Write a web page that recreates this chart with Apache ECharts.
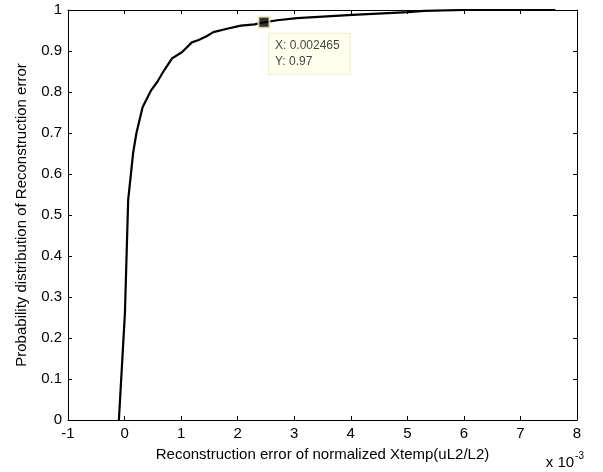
<!DOCTYPE html>
<html>
<head>
<meta charset="utf-8">
<title>Reconstruction error CDF</title>
<script src="https://cdn.jsdelivr.net/npm/echarts@6/dist/echarts.min.js"></script>
<style>
  html, body { margin: 0; padding: 0; background: #fff; }
  #chart { width: 603px; height: 472px; }
</style>
</head>
<body>
<div id="chart"></div>
<script>
// Empirical CDF of the reconstruction error (x in raw units, shown on the axis as x 10^-3)
var errValues = [
  -0.00010, 0.000007, 0.000064, 0.000111, 0.000151, 0.000210, 0.000319, 0.000470,
  0.000580, 0.000700, 0.000840, 0.001014, 0.001190, 0.001310, 0.001450, 0.001570,
  0.001830, 0.002056, 0.002300, 0.002465, 0.002700, 0.003050, 0.004030, 0.005010,
  0.005300, 0.006000, 0.007600
];
var probValues = [
  0.000, 0.262, 0.537, 0.598, 0.651, 0.700, 0.763, 0.804,
  0.825, 0.853, 0.882, 0.897, 0.921, 0.927, 0.936, 0.946,
  0.955, 0.962, 0.965, 0.970, 0.975, 0.980, 0.988, 0.995,
  0.998, 1.000, 1.000
];
// Data tip point
var tipX = [0.002465];
var tipY = [0.97];

var xMin = -0.001, xMax = 0.008, xStep = 0.001;
var yMin = 0, yMax = 1, yStep = 0.1;

var FONT = '"Liberation Sans", Arial, Helvetica, sans-serif';
var INK = '#000';

var curve = errValues.map(function (x, i) { return [x, probValues[i]]; });
var tip = tipX.map(function (x, i) { return [x, tipY[i]]; });

function xLabel(v) { return String(Math.round(v / xStep)); }
function yLabel(v) {
  var r = Math.round(v * 10) / 10;
  return r === 0 || r === 1 ? String(r) : r.toFixed(1);
}

function boxAxis(extra) {
  var base = {
    axisLine: { show: true, onZero: false, lineStyle: { color: INK, width: 1 } },
    axisTick: { show: true, inside: true, length: 4, lineStyle: { color: INK, width: 1 } },
    splitLine: { show: false },
    axisLabel: { show: false }
  };
  return Object.assign(base, extra);
}

var chart = echarts.init(document.getElementById('chart'), null, { renderer: 'canvas' });

chart.setOption({
  animation: false,
  backgroundColor: '#fff',
  textStyle: { fontFamily: FONT },
  grid: { left: 68, right: 26, top: 10, bottom: 52, containLabel: false },
  xAxis: [
    boxAxis({
      type: 'value', position: 'bottom', min: xMin, max: xMax, interval: xStep,
      axisLabel: { show: true, color: INK, fontSize: 15, fontFamily: FONT, margin: 6, formatter: xLabel },
      name: 'Reconstruction error of normalized Xtemp(uL2/L2)',
      nameLocation: 'middle', nameGap: 27,
      nameTextStyle: { color: INK, fontSize: 15, fontFamily: FONT }
    }),
    boxAxis({ type: 'value', position: 'top', min: xMin, max: xMax, interval: xStep })
  ],
  yAxis: [
    boxAxis({
      type: 'value', position: 'left', min: yMin, max: yMax, interval: yStep,
      axisLabel: { show: true, color: INK, fontSize: 15, fontFamily: FONT, margin: 6, formatter: yLabel },
      name: 'Probability distribution of Reconstruction error',
      nameLocation: 'middle', nameGap: 39,
      nameTextStyle: { color: INK, fontSize: 15, fontFamily: FONT }
    }),
    boxAxis({ type: 'value', position: 'right', min: yMin, max: yMax, interval: yStep })
  ],
  graphic: [{
    type: 'text',
    right: 19, bottom: 2,
    style: {
      text: '{b|x 10}{s|-3}',
      rich: {
        b: { fontSize: 15, fontFamily: FONT, fill: INK, verticalAlign: 'bottom', lineHeight: 18 },
        s: { fontSize: 10, fontFamily: FONT, fill: INK, verticalAlign: 'top', padding: [0, 0, 9, 1] }
      }
    }
  }],
  series: [
    {
      type: 'line',
      data: curve,
      showSymbol: false,
      symbol: 'none',
      clip: true,
      lineStyle: { color: INK, width: 2.2, join: 'round', cap: 'round' },
      z: 2
    },
    {
      type: 'scatter',
      data: tip,
      symbol: 'rect',
      symbolSize: 11,
      itemStyle: { color: '#000', borderColor: '#f3f0c0', borderWidth: 2 },
      label: {
        show: true,
        position: 'bottom',
        align: 'left',
        offset: [5, 0],
        formatter: function (p) {
          return 'X: ' + p.value[0].toFixed(6) + '\nY: ' + p.value[1].toFixed(2);
        },
        color: '#111',
        fontSize: 12,
        fontFamily: FONT,
        lineHeight: 16,
        backgroundColor: '#ffffe8',
        borderColor: '#ebebcf',
        borderWidth: 1,
        padding: [4, 10, 4, 6]
      },
      z: 5
    }
  ]
});
</script>
</body>
</html>
